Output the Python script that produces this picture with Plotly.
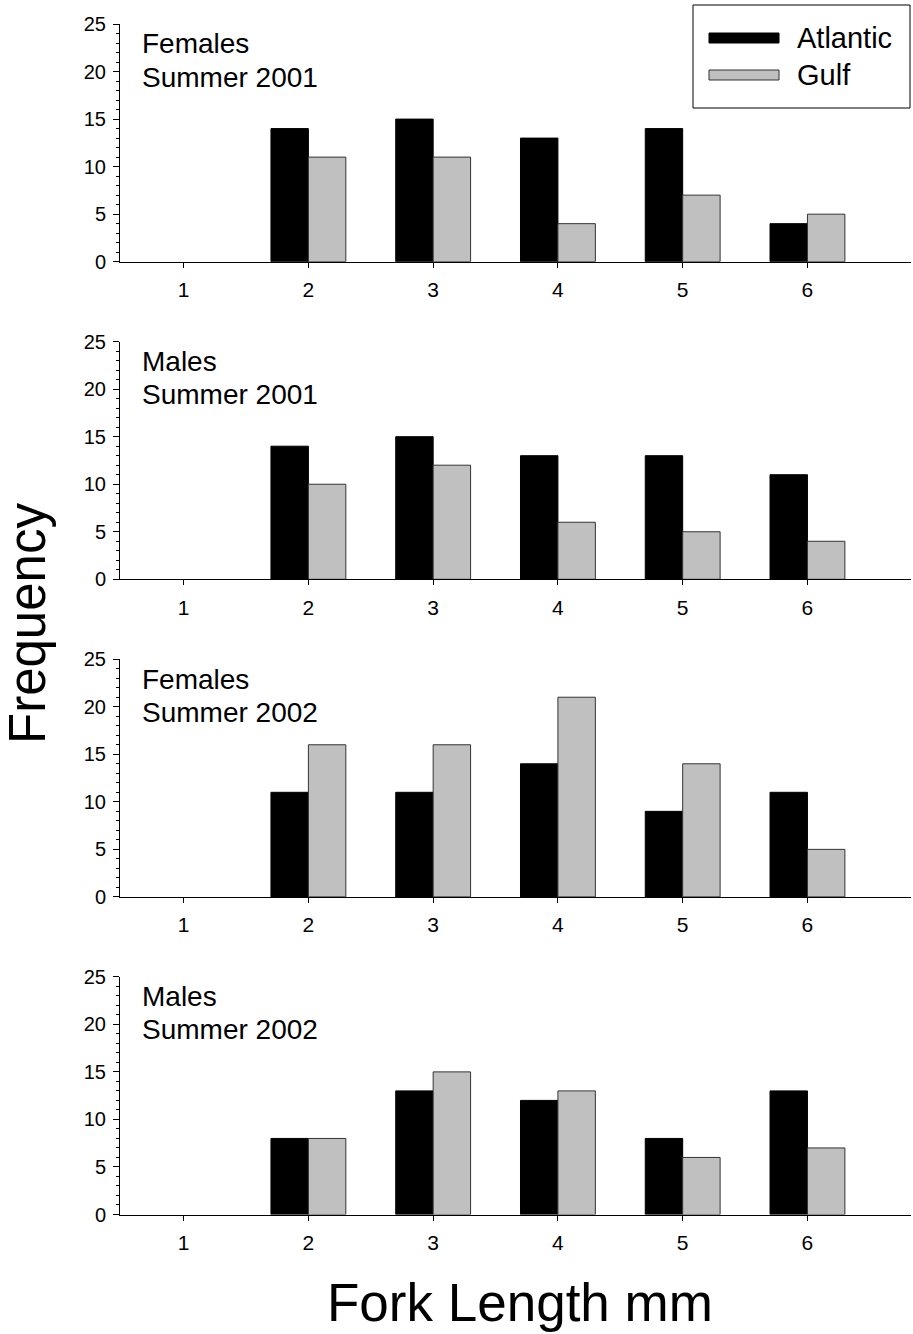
import plotly.graph_objects as go

W, H = 913, 1334
fork_length = [1, 2, 3, 4, 5, 6]
panel_labels = ["Females<br>Summer 2001", "Males<br>Summer 2001",
                "Females<br>Summer 2002", "Males<br>Summer 2002"]
atlantic_f2001 = [None, 14, 15, 13, 14, 4]
gulf_f2001 = [None, 11, 11, 4, 7, 5]
atlantic_m2001 = [None, 14, 15, 13, 13, 11]
gulf_m2001 = [None, 10, 12, 6, 5, 4]
atlantic_f2002 = [None, 11, 11, 14, 9, 11]
gulf_f2002 = [None, 16, 16, 21, 14, 5]
atlantic_m2002 = [None, 8, 13, 12, 8, 13]
gulf_m2002 = [None, 8, 15, 13, 6, 7]
atlantic = [atlantic_f2001, atlantic_m2001, atlantic_f2002, atlantic_m2002]
gulf = [gulf_f2001, gulf_m2001, gulf_f2002, gulf_m2002]
y_ticks = [0, 5, 10, 15, 20, 25]

FONT = "Liberation Sans, Arial, sans-serif"
fig = go.Figure()

# pixel geometry of panels (y of value 0 and value 25)
zero_px = [261.7, 579.3, 896.9, 1214.5]
top_px = [z - 237.7 for z in zero_px]
x_left, x_right = 120, 911

def fy(py):
    return 1 - py / H

def fx(px):
    return px / W

for i in range(4):
    n = "" if i == 0 else str(i + 1)
    fig.add_trace(go.Bar(x=fork_length, y=atlantic[i], name="Atlantic",
                         marker=dict(color="black", line=dict(color="black", width=1)),
                         xaxis="x" + n, yaxis="y" + n, showlegend=False))
    fig.add_trace(go.Bar(x=fork_length, y=gulf[i], name="Gulf",
                         marker=dict(color="#c0c0c0", line=dict(color="#333333", width=1)),
                         xaxis="x" + n, yaxis="y" + n, showlegend=False))
    fig.update_layout(**{
        "xaxis" + n: dict(domain=[fx(x_left), fx(x_right)], range=[0.49, 6.83],
                          anchor="y" + n, tickmode="array", tickvals=fork_length,
                          ticks="outside", ticklen=5, tickcolor="black", tickwidth=1,
                          showline=True, linecolor="black", linewidth=1,
                          showgrid=False, zeroline=False, automargin=False,
                          ticklabelstandoff=4,
                          tickfont=dict(family=FONT, size=21, color="black")),
        "yaxis" + n: dict(domain=[fy(zero_px[i]), fy(top_px[i])], range=[0, 25],
                          anchor="x" + n, tickmode="array", tickvals=y_ticks,
                          ticks="outside", ticklen=6, tickcolor="black", tickwidth=1,
                          minor=dict(dtick=1, ticks="outside", ticklen=3, tickcolor="black"),
                          showline=True, linecolor="black", linewidth=1,
                          showgrid=False, zeroline=False, ticklabelstandoff=3,
                          automargin=False,
                          tickfont=dict(family=FONT, size=20, color="black")),
    })
    lines = panel_labels[i].split("<br>")
    for j, line in enumerate(lines):
        fig.add_annotation(text=line, xref="paper", yref="paper",
                           x=fx(140), y=fy(top_px[i] + 20 + 33 * j),
                           xanchor="left", yanchor="middle", showarrow=False,
                           font=dict(family=FONT, size=28, color="black"))

# legend box
fig.add_shape(type="rect", xref="paper", yref="paper",
              x0=fx(693), x1=fx(910), y0=fy(108), y1=fy(5),
              line=dict(color="black", width=1), fillcolor="white")
fig.add_shape(type="rect", xref="paper", yref="paper",
              x0=fx(709), x1=fx(779), y0=fy(43), y1=fy(33),
              line=dict(color="black", width=1), fillcolor="black")
fig.add_shape(type="rect", xref="paper", yref="paper",
              x0=fx(709), x1=fx(779), y0=fy(80), y1=fy(70),
              line=dict(color="#333333", width=1), fillcolor="#c0c0c0")
for name, py in [("Atlantic", 38), ("Gulf", 75)]:
    fig.add_annotation(text=name, xref="paper", yref="paper", x=fx(795), y=fy(py),
                       xanchor="left", yanchor="middle", showarrow=False,
                       font=dict(family=FONT, size=29, color="black"))

fig.add_annotation(text="Frequency", xref="paper", yref="paper", x=fx(27), y=fy(624),
                   textangle=-90, xanchor="center", yanchor="middle", showarrow=False,
                   font=dict(family=FONT, size=51, color="black"))
fig.add_annotation(text="Fork Length mm", xref="paper", yref="paper", x=fx(520), y=fy(1302),
                   xanchor="center", yanchor="middle", showarrow=False,
                   font=dict(family=FONT, size=53, color="black"))

fig.update_layout(width=W, height=H, margin=dict(l=0, r=0, t=0, b=0, pad=0),
                  paper_bgcolor="white", plot_bgcolor="white",
                  barmode="group", bargap=0.4, bargroupgap=0)

fig.write_html("out.html")
